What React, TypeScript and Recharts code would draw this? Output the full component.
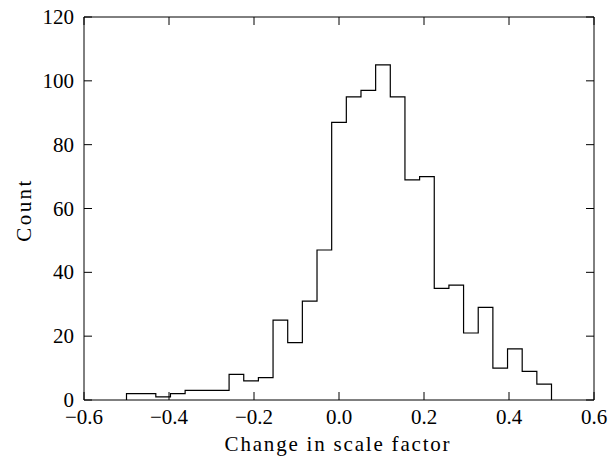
import { LineChart, Line, XAxis, YAxis } from 'recharts';

// histogram of change in scale factor, 29 equal bins over [-0.5, 0.5]
const binLo = -0.5;
const binHi = 0.5;
const counts = [2, 2, 1, 2, 3, 3, 3, 8, 6, 7, 25, 18, 31, 47, 87, 95, 97, 105, 95, 69, 70, 35, 36, 21, 29, 10, 16, 9, 5];
const xTicks = [-0.6, -0.4, -0.2, 0.0, 0.2, 0.4, 0.6];
const yTicks = [0, 20, 40, 60, 80, 100, 120];

const FONT = '"Liberation Serif", "Times New Roman", serif';
const binW = (binHi - binLo) / counts.length;

// step outline: rise at first edge, fall at last edge
const stepData = [
  { x: binLo, y: 0 },
  ...counts.map((c, i) => ({ x: binLo + i * binW, y: c })),
  { x: binHi, y: counts[counts.length - 1] },
  { x: binHi, y: 0 },
];

const fmt = (v: number) => {
  const s = v.toFixed(1);
  return v < 0 ? '\u2212' + s.slice(1) : s;
};

const BottomTick = ({ x, y, payload }: any) => (
  <text x={x} y={y + 24} textAnchor="middle" fontFamily={FONT} fontSize={21} fill="#000">
    {fmt(payload.value)}
  </text>
);

const LeftTick = ({ x, y, payload }: any) => (
  <text x={x - 10} y={y + 7} textAnchor="end" fontFamily={FONT} fontSize={21} fill="#000">
    {payload.value}
  </text>
);

const NoLabel = () => <g />;

const XLabel = () => (
  <text x={338} y={451} textAnchor="middle" fontFamily={FONT} fontSize={21} letterSpacing={1.8} fill="#000">
    Change in scale factor
  </text>
);

const YLabel = () => (
  <text
    x={24}
    y={210}
    transform="rotate(-90 24 210)"
    textAnchor="middle"
    dominantBaseline="central"
    fontFamily={FONT}
    fontSize={21}
    letterSpacing={2.4}
    fill="#000"
  >
    Count
  </text>
);

const axisLine = { stroke: '#000', strokeWidth: 1 };
const tickLine = { stroke: '#000', strokeWidth: 1 };

export default function App() {
  return (
    <div style={{ position: 'absolute', left: 0, top: 0, width: 610, height: 457, background: '#fff' }}>
      <LineChart width={610} height={457} data={stepData} margin={{ top: 16, right: 15, bottom: 0, left: 0 }}>
        <XAxis
          xAxisId="b"
          type="number"
          dataKey="x"
          domain={[-0.6, 0.6]}
          ticks={xTicks}
          allowDataOverflow
          height={57}
          tickSize={-8}
          tickMargin={8}
          tickLine={tickLine}
          axisLine={axisLine}
          tick={<BottomTick />}
          interval={0}
          label={<XLabel />}
        />
        <XAxis
          xAxisId="t"
          orientation="top"
          type="number"
          dataKey="x"
          domain={[-0.6, 0.6]}
          ticks={xTicks}
          allowDataOverflow
          height={1}
          tickSize={-8}
          tickMargin={0}
          tickLine={tickLine}
          axisLine={axisLine}
          tick={<NoLabel />}
          interval={0}
        />
        <YAxis
          yAxisId="l"
          type="number"
          domain={[0, 120]}
          ticks={yTicks}
          allowDataOverflow
          width={84}
          tickSize={-8}
          tickMargin={8}
          tickLine={tickLine}
          axisLine={axisLine}
          tick={<LeftTick />}
          interval={0}
          label={<YLabel />}
        />
        <YAxis
          yAxisId="r"
          orientation="right"
          type="number"
          domain={[0, 120]}
          ticks={yTicks}
          allowDataOverflow
          width={1}
          tickSize={-8}
          tickMargin={0}
          tickLine={tickLine}
          axisLine={axisLine}
          tick={<NoLabel />}
          interval={0}
        />
        <Line
          xAxisId="t"
          yAxisId="r"
          type="stepAfter"
          dataKey="y"
          stroke="none"
          dot={false}
          activeDot={false}
          isAnimationActive={false}
        />
        <Line
          xAxisId="b"
          yAxisId="l"
          type="stepAfter"
          dataKey="y"
          stroke="#000"
          strokeWidth={1.2}
          dot={false}
          activeDot={false}
          isAnimationActive={false}
        />
      </LineChart>
    </div>
  );
}
